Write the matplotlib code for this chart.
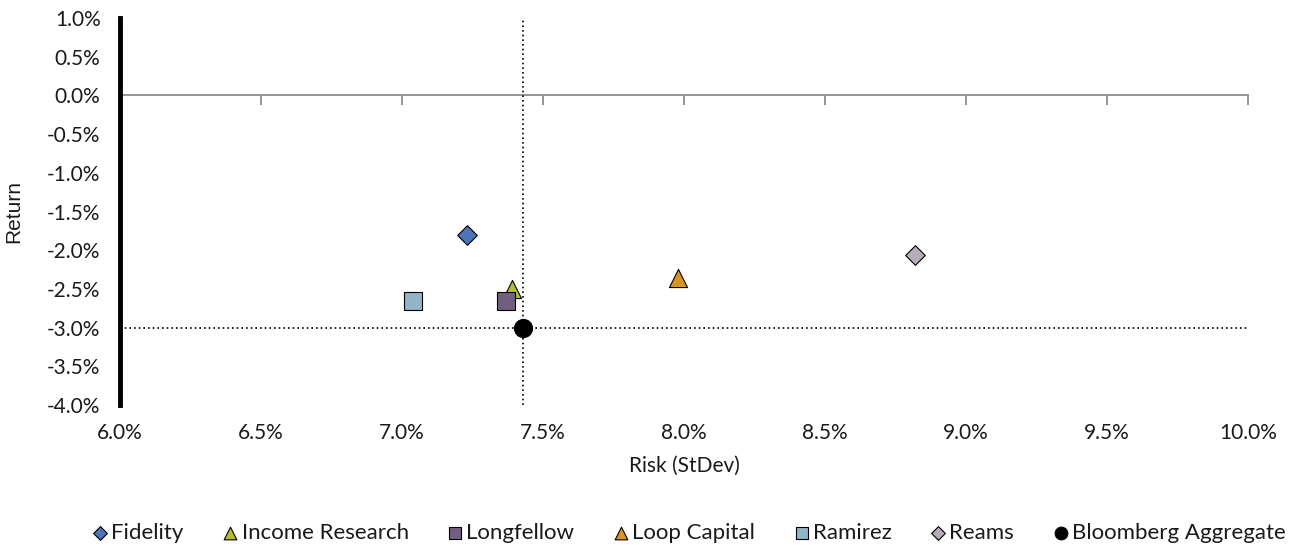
import matplotlib.pyplot as plt
from matplotlib.ticker import FuncFormatter, MultipleLocator

plt.rcParams['font.family'] = ['Lato', 'DejaVu Sans']

# risk / return per manager (percent)
managers = ["Fidelity", "Income Research", "Longfellow", "Loop Capital",
            "Ramirez", "Reams", "Bloomberg Aggregate"]
risk = [7.23, 7.39, 7.37, 7.98, 7.04, 8.82, 7.43]
ret = [-1.80, -2.50, -2.66, -2.36, -2.66, -2.06, -3.00]
colors = ["#4F74B5", "#B5BE2E", "#725F7D", "#D99427", "#91B4C8", "#B7ADB9", "#000000"]
markers = ["D", "^", "s", "^", "s", "D", "o"]
sizes = [100, 170, 150, 170, 150, 100, 170]

bench_risk = risk[-1]
bench_ret = ret[-1]

fig = plt.figure(figsize=(12.93, 5.5), dpi=100)
ax = fig.add_axes([0.0928, 0.2636, 0.8724, 0.7036])

# dotted cross-hairs through the benchmark
ax.axvline(bench_risk, color="black", linestyle=(0, (1, 1.8)), linewidth=1.2, zorder=1)
ax.axhline(bench_ret, color="black", linestyle=(0, (1, 1.8)), linewidth=1.2, zorder=1)

for name, x, y, c, m, s in zip(managers, risk, ret, colors, markers, sizes):
    ax.scatter(x, y, s=s, c=c, marker=m, edgecolors="black", linewidths=0.8,
               label=name, zorder=3)

ax.set_xlim(6.0, 10.0)
ax.set_ylim(-4.0, 1.0)
ax.xaxis.set_major_locator(MultipleLocator(0.5))
ax.yaxis.set_major_locator(MultipleLocator(0.5))
pct = FuncFormatter(lambda v, p: "%.1f%%" % v)
ax.xaxis.set_major_formatter(pct)
ax.yaxis.set_major_formatter(pct)

for side in ["top", "right", "bottom"]:
    ax.spines[side].set_visible(False)
ax.spines["left"].set_linewidth(3.5)
ax.spines["left"].set_color("black")
ax.tick_params(axis="both", length=0, labelsize=15, colors="#1a1a1a")
ax.tick_params(axis="x", pad=13)
ax.tick_params(axis="y", pad=14)

# zero line with tick marks pointing down
zero = ax.secondary_xaxis(0.8)
for sp in zero.spines.values():
    sp.set_color("#8c8c8c")
    sp.set_linewidth(1.3)
zero.xaxis.set_major_locator(MultipleLocator(0.5))
zero.tick_params(axis="x", which="both", direction="in", length=7, width=1.3,
                 color="#8c8c8c", labelbottom=False, labeltop=False)

ax.set_xlabel("Risk (StDev)", fontsize=15, labelpad=9, color="#1a1a1a")
ax.set_ylabel("Return", fontsize=15, family=["Liberation Sans", "DejaVu Sans"],
              color="#1a1a1a")
ax.yaxis.set_label_coords(-0.086, 0.5)

fig.legend(*ax.get_legend_handles_labels(), loc="center",
           bbox_to_anchor=(688 / 1293, 1 - 533 / 550), ncol=7, frameon=False,
           fontsize=16, handletextpad=0.05, columnspacing=1.65,
           markerscale=0.7, handlelength=0.9, borderpad=0, labelcolor="#1a1a1a")

fig.savefig("out.png", dpi=100)
